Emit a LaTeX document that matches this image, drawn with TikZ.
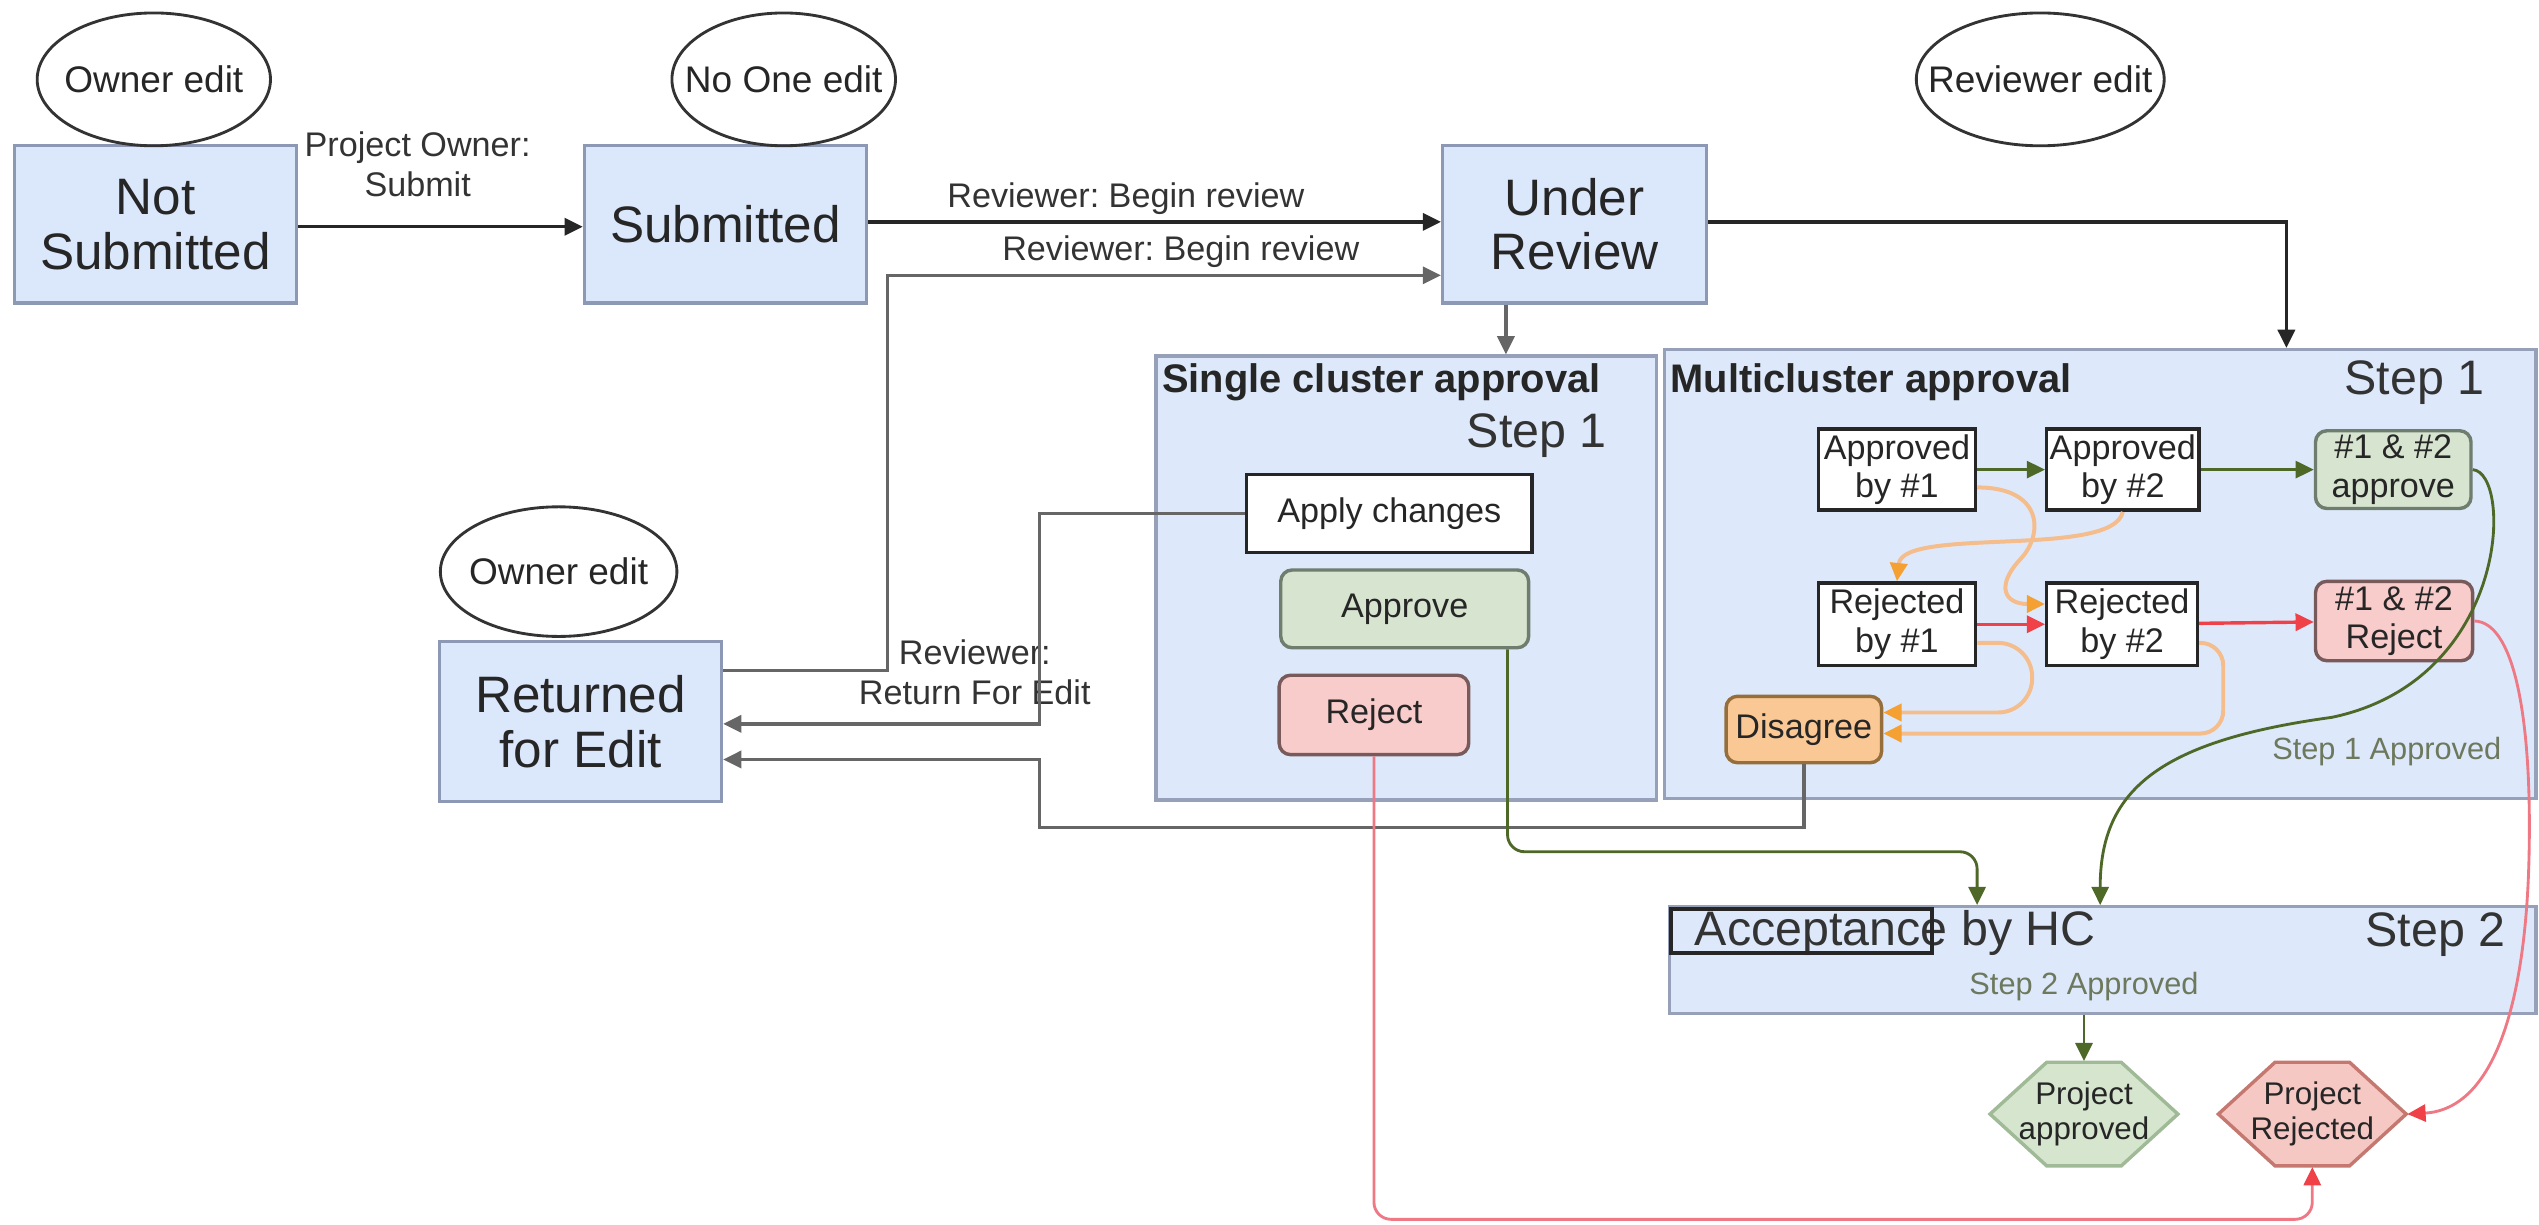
\documentclass[tikz,border=0pt]{standalone}
\usepackage{fontspec}
\setmainfont{Liberation Sans}
\usetikzlibrary{arrows.meta,shapes.geometric,positioning}

\definecolor{boxblue}{RGB}{219,231,250}
\definecolor{boxline}{RGB}{140,152,180}
\definecolor{panelblue}{RGB}{221,233,251}
\definecolor{panelline}{RGB}{150,160,185}
\definecolor{okgreen}{RGB}{214,228,208}
\definecolor{okline}{RGB}{110,125,110}
\definecolor{kored}{RGB}{248,204,202}
\definecolor{koline}{RGB}{120,90,90}
\definecolor{warnorange}{RGB}{249,200,148}
\definecolor{warnline}{RGB}{150,110,60}
\definecolor{hexgreen}{RGB}{214,230,206}
\definecolor{hexgreenline}{RGB}{160,185,150}
\definecolor{hexred}{RGB}{246,200,196}
\definecolor{hexredline}{RGB}{196,120,112}
\definecolor{arrgreen}{RGB}{78,104,40}
\definecolor{arrred}{RGB}{240,64,72}
\definecolor{linepink}{RGB}{238,120,132}
\definecolor{lineorange}{RGB}{245,188,140}
\definecolor{arrorange}{RGB}{245,160,50}

\begin{document}
\frenchspacing
\begin{tikzpicture}[x=0.01cm, y=-0.01cm,
        state_box/.style={draw=boxline, fill=boxblue, line width=0.6pt, align=center, text=black!85,
            font=\fontsize{9}{9.6}\selectfont, minimum width=1.74cm, minimum height=0.97cm, inner sep=0pt},
        edit_oval/.style={ellipse, draw=black!80, line width=0.5pt, text=black!85,
            font=\fontsize{6.5}{7}\selectfont, minimum width=1.44cm, minimum height=0.82cm,
            inner xsep=-5mm, inner ysep=0pt},
        panel/.style={draw=panelline, fill=panelblue, line width=0.6pt, inner sep=0pt},
        panel_title/.style={font=\bfseries\fontsize{7}{8}\selectfont, text=black!85, inner sep=0pt},
        step_label/.style={font=\fontsize{8.5}{9}\selectfont, text=black!80, inner sep=0pt},
        done_label/.style={font=\fontsize{5.4}{6}\selectfont, text=arrgreen!60!black!70, inner sep=0pt},
        small_box/.style={draw=black!85, fill=white, line width=0.6pt, align=center, text=black!85,
            font=\fontsize{6}{6.8}\selectfont, inner sep=0pt},
        ok_box/.style={small_box, draw=okline, fill=okgreen, rounded corners=2pt},
        ko_box/.style={small_box, draw=koline, fill=kored, rounded corners=2pt},
        warn_box/.style={small_box, draw=warnline, fill=warnorange, rounded corners=2pt},
        hex_ok/.style={draw=hexgreenline, fill=hexgreen, line width=0.6pt},
        hex_ko/.style={draw=hexredline, fill=hexred, line width=0.6pt},
        hex_text/.style={align=center, text=black!85, font=\fontsize{5.5}{6.2}\selectfont,
            inner sep=0pt, minimum width=1.16cm, minimum height=0.64cm},
        edge_label/.style={font=\fontsize{6}{7}\selectfont, text=black!80, align=center, inner sep=1pt},
        arr_main/.style={draw=black!85, line width=0.6pt, -{Triangle[length=3.2pt,width=3pt]}},
        arr_gray/.style={arr_main, draw=black!60},
        arr_green/.style={draw=arrgreen, line width=0.5pt, -{Triangle[length=3.2pt,width=3pt]}},
        arr_red/.style={draw=arrred, line width=0.6pt, -{Triangle[length=3.2pt,width=3pt]}},
        arr_pink/.style={draw=linepink, line width=0.5pt, -{Triangle[length=3.2pt,width=3pt,color=arrred]}},
        arr_orange/.style={draw=lineorange, line width=0.7pt, -{Triangle[length=3.2pt,width=3pt,color=arrorange]}}
    ]
    \useasboundingbox (0,0) rectangle (1568,756);
    \begin{scope}[shift={(0,0)}]

        % Riquadri
        \node[panel, minimum width=3.09cm, minimum height=2.74cm] (single) at (868.5,357) {};
        \node[panel, minimum width=5.38cm, minimum height=2.77cm] (multi) at (1297,354.5) {};
        \node[panel, minimum width=5.35cm, minimum height=0.66cm] (accept) at (1298.5,593) {};

        \node[panel_title, anchor=north west] (single_t) at (717,224) {Single cluster approval};
        \node[step_label, anchor=north east] (single_s) at (993,255) {Step 1};
        \node[panel_title, anchor=north west] (multi_t) at (1031,224) {Multicluster approval};
        \node[step_label, anchor=north east] (multi_s) at (1535,222) {Step 1};
        \node[done_label] (multi_ok) at (1474,464) {Step 1 Approved};
        \node[step_label, anchor=west] (accept_t) at (1046,576) {Acceptance by HC};
        \node[step_label, anchor=east] (accept_s) at (1548,577) {Step 2};
        \node[done_label] (accept_ok) at (1287,609.5) {Step 2 Approved};
        \node[draw=black!85, line width=0.7pt, minimum width=1.61cm, minimum height=0.27cm,
            inner sep=0pt, anchor=north west] (accept_sel) at (1031,560) {};

        % Stati
        \node[state_box] (notsub) at (96,138.5) {Not\\Submitted};
        \node[state_box] (sub) at (448,138.5) {Submitted};
        \node[state_box, minimum width=1.63cm] (review) at (972.5,138.5) {Under\\Review};
        \node[state_box, minimum height=0.99cm] (returned) at (358.5,445.5) {Returned\\for Edit};

        % Chi modifica
        \node[edit_oval] (own_a) at (95,49) {Owner edit};
        \node[edit_oval, minimum width=1.38cm] (noone) at (484,49) {No One edit};
        \node[edit_oval, minimum width=1.53cm] (revedit) at (1260,49) {Reviewer edit};
        \node[edit_oval, minimum width=1.46cm, minimum height=0.80cm] (own_b) at (345,353) {Owner edit};

        % Cluster singolo
        \node[small_box, minimum width=1.76cm, minimum height=0.48cm] (apply) at (858,317) {Apply changes};
        \node[ok_box, minimum width=1.53cm, minimum height=0.48cm] (approve) at (867.5,376) {Approve};
        \node[ko_box, minimum width=1.17cm, minimum height=0.49cm] (reject) at (848.5,441.5) {Reject};

        % Multicluster
        \node[small_box, minimum width=0.97cm, minimum height=0.50cm] (ap_a) at (1171.5,290) {Approved\\by \#1};
        \node[small_box, minimum width=0.94cm, minimum height=0.50cm] (ap_b) at (1311,290) {Approved\\by \#2};
        \node[ok_box, minimum width=0.96cm, minimum height=0.48cm] (both_ok) at (1478,290) {\#1 \& \#2\\approve};
        \node[small_box, minimum width=0.97cm, minimum height=0.51cm] (rj_a) at (1171.5,385.5) {Rejected\\by \#1};
        \node[small_box, minimum width=0.93cm, minimum height=0.51cm] (rj_b) at (1310.5,385.5) {Rejected\\by \#2};
        \node[ko_box, minimum width=0.97cm, minimum height=0.49cm] (both_ko) at (1478.5,383.5) {\#1 \& \#2\\Reject};
        \node[warn_box, minimum width=0.96cm, minimum height=0.41cm] (disagree) at (1114,450.5) {Disagree};

        % Esiti
        \filldraw[hex_ok] (1229,688) -- (1264,656) -- (1310,656) -- (1345,688) -- (1310,720) -- (1264,720) -- cycle;
        \node[hex_text] (prj_ok) at (1287,688) {Project\\approved};
        \filldraw[hex_ko] (1370,688) -- (1405,656) -- (1451,656) -- (1486,688) -- (1451,720) -- (1405,720) -- cycle;
        \node[hex_text] (prj_ko) at (1428,688) {Project\\Rejected};

        % Transizioni principali
        \draw[arr_main] (notsub.east |- 0,140) -- node[edge_label, above=4pt, pos=0.42] (lbl_submit) {Project Owner:\\Submit} (sub.west |- 0,140);
        \draw[arr_main] (sub.east |- 0,137) -- node[edge_label, above=0pt, pos=0.45] (lbl_begin_a) {Reviewer: Begin review} (review.west |- 0,137);
        \draw[arr_gray] (returned.east |- 0,414) -| (548,170) -- node[edge_label, above=0pt, pos=0.53] (lbl_begin_b) {Reviewer: Begin review} (review.west |- 0,170);
        \draw[arr_gray] (review.south -| 930,0) -- (single.north -| 930,0);
        \draw[arr_main] (review.east |- 0,137) -| (multi.north -| 1412,0);

        % Ritorno al proprietario
        \node[edge_label] (lbl_return) at (602,415) {Reviewer:\\Return For Edit};
        \draw[arr_gray] (apply.west) -| (642,447) -- (returned.east |- 0,447);
        \draw[arr_gray] (disagree.south) |- (642,511) |- (returned.east |- 0,469);

        % Approvazioni
        \draw[arr_green, rounded corners=3pt] (approve.south -| 931,0) |- (1221,526) -- (accept.north -| 1221,0);
        \draw[arr_green] (ap_a) -- (ap_b);
        \draw[arr_green] (ap_b) -- (both_ok);
        \draw[arr_green] (both_ok.east) .. controls (1552,292) and (1550,420) .. (1440,443) .. controls (1330,458) and (1297,490) .. (accept.north -| 1297,0);
        \draw[arr_green] (accept.south -| prj_ok.north) -- (prj_ok.north);

        % Rifiuti
        \draw[arr_red] (rj_a) -- (rj_b);
        \draw[arr_red] (rj_b) -- (both_ko);
        \draw[arr_pink] (both_ko.east) .. controls (1552,384) and (1563,440) .. (1562,520) .. controls (1561,620) and (1540,685) .. (prj_ko.east);
        \draw[arr_pink, rounded corners=3pt] (reject.south) |- (prj_ko.south |- 0,753) -- (prj_ko.south);

        % Disaccordo
        \draw[arr_orange] (ap_b.south) .. controls (1305,345) and (1175,325) .. (rj_a.north);
        \draw[arr_orange] (ap_a.east |- 0,301) .. controls (1262,301) and (1262,330) .. (1248,345) .. controls (1232,362) and (1238,373) .. (rj_b.west |- 0,373);
        \draw[arr_orange, rounded corners=6pt] (rj_a.east |- 0,397) -| (1255,440) -- (disagree.east |- 0,440);
        \draw[arr_orange, rounded corners=4pt] (rj_b.east |- 0,397) -| (1373,453) -- (disagree.east |- 0,453);
    \end{scope}
\end{tikzpicture}
\end{document}
